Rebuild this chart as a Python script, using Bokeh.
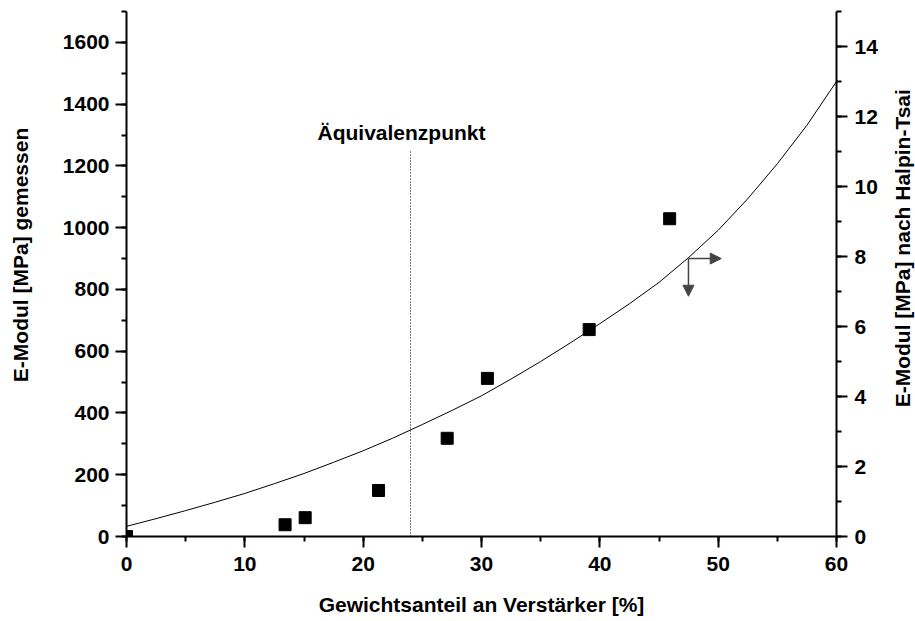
import math
from bokeh.plotting import figure
from bokeh.layouts import row
from bokeh.models import Range1d, LinearAxis, FixedTicker, Label, Arrow, NormalHead
from bokeh.core.properties import value
from bokeh.embed import file_html
from bokeh.resources import INLINE

# ---- data ----
gewicht = [0.0, 13.4, 15.1, 21.3, 27.1, 30.5, 39.1, 45.9]          # Gewichtsanteil [%]
e_gemessen = [0, 38, 61, 149, 318, 512, 670, 1029]                  # E-Modul gemessen [MPa]

ht_x = [0, 2.5, 5, 7.5, 10, 12.5, 15, 17.5, 20, 22.5, 25, 27.5, 30,
        32.5, 35, 37.5, 40, 42.5, 45, 47.5, 50, 52.5, 55, 57.5, 60]
ht_y = [0.29, 0.51, 0.74, 0.98, 1.23, 1.51, 1.80, 2.12, 2.45, 2.81, 3.20, 3.60, 4.02,
        4.50, 5.00, 5.53, 6.08, 6.65, 7.26, 7.97, 8.75, 9.65, 10.65, 11.75, 13.0]  # Halpin-Tsai

aequivalenz_x = [24.0]
aequivalenz_top = [1250]

x_ticks = [0, 10, 20, 30, 40, 50, 60]
x_minor = [0, 5, 10, 15, 20, 25, 30, 35, 40, 45, 50, 55, 60]
left_ticks = [0, 200, 400, 600, 800, 1000, 1200, 1400, 1600]
left_minor = list(range(0, 1701, 100))
right_ticks = [0, 2, 4, 6, 8, 10, 12, 14]
right_minor = list(range(0, 16))

label_x = "Gewichtsanteil an Verstärker [%]"
label_left = "E-Modul [MPa] gemessen"
label_right = "E-Modul [MPa] nach Halpin-Tsai"

FONT = "Liberation Sans"
FS = "21px"
H = 621
SIDE_L = 36
SIDE_R = 35
MAIN_W = 915 - SIDE_L - SIDE_R

p = figure(width=MAIN_W, height=H, x_range=Range1d(0, 60), y_range=Range1d(0, 1700),
           output_backend="svg", toolbar_location=None,
           min_border_left=126 - SIDE_L, min_border_right=(SIDE_L + MAIN_W) - 836,
           min_border_top=11, min_border_bottom=85)
p.outline_line_color = None
p.xgrid.visible = False
p.ygrid.visible = False
p.background_fill_color = "white"

p.extra_y_ranges = {"right": Range1d(0, 15)}
ax_r = LinearAxis(y_range_name="right")
p.add_layout(ax_r, "right")

def style(ax, ticks, minor):
    ax.ticker = FixedTicker(ticks=ticks, minor_ticks=minor)
    ax.axis_line_width = 2
    ax.axis_line_color = "black"
    ax.major_tick_line_width = 2
    ax.minor_tick_line_width = 2
    ax.major_tick_out = 11
    ax.major_tick_in = 0
    ax.minor_tick_out = 5
    ax.minor_tick_in = 0
    ax.major_label_text_font = FONT
    ax.major_label_text_font_size = FS
    ax.major_label_text_font_style = "bold"
    ax.major_label_text_color = "black"

style(p.xaxis[0], x_ticks, x_minor)
style(p.yaxis[0], left_ticks, left_minor)
style(ax_r, right_ticks, right_minor)

xa = p.xaxis[0]
xa.axis_label = label_x
xa.axis_label_text_font = FONT
xa.axis_label_text_font_size = FS
xa.axis_label_text_font_style = "bold"
xa.axis_label_text_color = "black"
xa.axis_label_standoff = 19

p.xaxis[0].major_label_standoff = 9
p.yaxis[0].major_label_standoff = 6
ax_r.major_label_standoff = 7

# Halpin-Tsai curve (right axis)
p.line(ht_x, ht_y, y_range_name="right", line_color="black", line_width=1)

# measured points
p.scatter(gewicht, e_gemessen, marker="square", size=12, color="black")

# Äquivalenzpunkt dotted line
p.segment(x0=aequivalenz_x, y0=[0], x1=aequivalenz_x, y1=aequivalenz_top,
          line_color="black", line_width=1, line_dash="1 2")

p.add_layout(Label(x=23.24, y=1308, text="Äquivalenzpunkt", text_font=FONT,
                   text_font_size=FS, text_font_style="bold", text_align="center",
                   text_baseline="alphabetic", text_color="black"))

# arrows pointing to the axes
arrow_col = "#444444"
ax0, ay0 = 47.49, 900
p.add_layout(Arrow(end=NormalHead(size=11, fill_color=arrow_col, line_color=arrow_col),
                   x_start=ax0, y_start=ay0, x_end=50.26, y_end=ay0,
                   line_color=arrow_col, line_width=1.5))
p.add_layout(Arrow(end=NormalHead(size=11, fill_color=arrow_col, line_color=arrow_col),
                   x_start=ax0, y_start=ay0, x_end=ax0, y_end=778,
                   line_color=arrow_col, line_width=1.5))

# side strips carrying the vertical axis titles (both read bottom-to-top)
def side_strip(w, text, cx, cy):
    s = figure(width=w, height=H, x_range=Range1d(0, w), y_range=Range1d(H, 0),
               output_backend="svg", toolbar_location=None,
               x_axis_location=None, y_axis_location=None,
               min_border=0, min_border_left=0, min_border_right=0,
               min_border_top=0, min_border_bottom=0)
    s.outline_line_color = None
    s.grid.visible = False
    s.background_fill_color = "white"
    s.text(x=[cx], y=[cy], text=[text], angle=math.pi / 2,
           text_align="center", text_baseline="middle",
           text_font=value(FONT), text_font_size=value(FS),
           text_font_style="bold", text_color="black")
    return s

left_strip = side_strip(SIDE_L, label_left, 20, 288)
right_strip = side_strip(SIDE_R, label_right, 902 - (915 - SIDE_R), 280)

layout = row(left_strip, p, right_strip, spacing=0)

open("out.html", "w").write(file_html(layout, INLINE))
